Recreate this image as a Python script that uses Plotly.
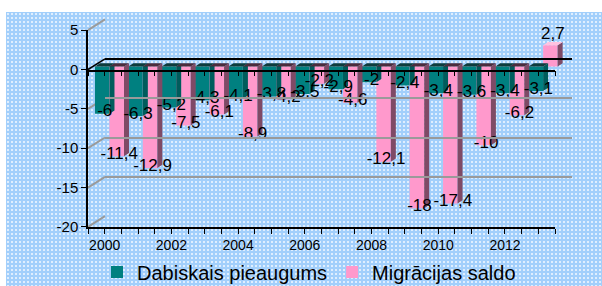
import base64
import plotly.graph_objects as go

# ---------------- data ----------------
years = list(range(2000, 2014))
dabiskais = [-6, -6.3, -5.2, -4.3, -4.1, -3.8, -3.5, -2.9, -2, -2.4, -3.4, -3.6, -3.4, -3.1]
migracijas = [-11.4, -12.9, -7.5, -6.1, -8.9, -4.2, -2.2, -4.6, -12.1, -18, -17.4, -10, -6.2, 2.7]
series_names = ["Dabiskais pieaugums", "Migrācijas saldo"]
y_ticks = [5, 0, -5, -10, -15, -20]
x_label_years = [2000, 2002, 2004, 2006, 2008, 2010, 2012]

# ---------------- geometry (pixels) ----------------
W, H = 602, 286
L, R_END = 88, 572          # plot area left / right
T, B_END = 19, 227          # plot area top / bottom
PW, PH = R_END - L, B_END - T
X_FRONT_END = 555           # end of front category axis
Y_TOP_PX, Y_BOT_PX = 30.15, 226.9   # front pixel rows of 5 and -20
DEPTH = (17, 10.7)          # back wall offset (right, up)
N = len(years)
UX = (X_FRONT_END - L) / N  # px per category
UY = (Y_BOT_PX - Y_TOP_PX) / (max(y_ticks) - min(y_ticks))

FX, FY = 4.8, 3.0           # bar front face offset (right, up)
BW = 14.5                   # bar width px
DX, DY = 5.0, 3.2           # bar depth (right, up)

fxu, fyu, bwu, dxu, dyu = FX / UX, FY / UY, BW / UX, DX / UX, DY / UY


def pxx(p):
    return (p - L) / PW


def pxy(p):
    return (B_END - p) / PH


def yfront(v):
    return Y_TOP_PX + (max(y_ticks) - v) * UY


FONT = "Liberation Sans, Arial, sans-serif"
TEAL, TEAL_SIDE, TEAL_TOP = "#008080", "#005c5c", "#0f3c3c"
PINK, PINK_SIDE, PINK_TOP_NEG, PINK_TOP_POS = "#ff99cc", "#7f4a66", "#4a2c3c", "#ffc2e0"

fig = go.Figure()

offsets = [fxu - bwu, fxu]
colors = [(TEAL, TEAL_SIDE, TEAL_TOP, TEAL), (PINK, PINK_SIDE, PINK_TOP_NEG, PINK_TOP_POS)]
series = [dabiskais, migracijas]
idx = list(range(N))


def faces(vals, off):
    sx, sy, tnx, tny, tpx, tpy = [], [], [], [], [], []
    for i, v in enumerate(vals):
        xl = i + off
        xr = xl + bwu
        lo = min(v, 0) + fyu
        hi = max(v, 0) + fyu
        sx += [xr, xr + dxu, xr + dxu, xr, xr, None]
        sy += [lo, lo + dyu, hi + dyu, hi, lo, None]
        px_ = [xl, xl + dxu, xr + dxu, xr, xl, None]
        py_ = [hi, hi + dyu, hi + dyu, hi, hi, None]
        if v < 0:
            tnx += px_; tny += py_
        else:
            tpx += px_; tpy += py_
    return sx, sy, tnx, tny, tpx, tpy


# side and top faces
for vals, off, (c_front, c_side, c_top_neg, c_top_pos) in zip(series, offsets, colors):
    sx, sy, tnx, tny, tpx, tpy = faces(vals, off)
    for xs, ys, c in [(sx, sy, c_side), (tnx, tny, c_top_neg), (tpx, tpy, c_top_pos)]:
        if xs:
            fig.add_trace(go.Scatter(x=xs, y=ys, mode="lines", fill="toself", fillcolor=c,
                                     line=dict(width=0, color=c), showlegend=False,
                                     hoverinfo="skip"))

# front faces
for vals, off, name, (c_front, *_rest) in zip(series, offsets, series_names, colors):
    fig.add_trace(go.Bar(x=idx, y=vals, base=[fyu] * N, offset=off, width=bwu, name=name,
                         marker=dict(color=c_front, line=dict(width=0))))

# data labels
for vals, off in zip(series, offsets):
    xs = [i + off + bwu / 2 + (DX / 2) / UX for i in idx]
    ys = [v + fyu + (DY / 2) / UY for v in vals]
    txt = [("%g" % v).replace(".", ",") for v in vals]
    pos = ["top center" if v > 0 else "middle center" for v in vals]
    fig.add_trace(go.Scatter(x=xs, y=ys, mode="text", text=txt, textposition=pos,
                             textfont=dict(family=FONT, size=17, color="black"),
                             showlegend=False, hoverinfo="skip", cliponaxis=False))

# empty helper traces so decorative axes are drawn
fig.add_trace(go.Scatter(x=[], y=[], xaxis="x2", yaxis="y", showlegend=False, hoverinfo="skip"))
fig.add_trace(go.Scatter(x=[], y=[], xaxis="x3", yaxis="y3", showlegend=False, hoverinfo="skip"))
fig.add_trace(go.Scatter(x=[], y=[], xaxis="x4", yaxis="y4", showlegend=False, hoverinfo="skip"))

ydom = [pxy(Y_BOT_PX), pxy(Y_TOP_PX)]
half_ticks = [i / 2 - 0.5 for i in range(2 * N + 1)]
xr_main = [-0.5, -0.5 + PW / UX]

# background pattern
svg = ('<svg xmlns="http://www.w3.org/2000/svg" width="596" height="274">'
       '<defs><pattern id="p" width="4" height="4" patternUnits="userSpaceOnUse">'
       '<rect width="4" height="4" fill="#a2cffb"/>'
       '<rect x="1" y="1" width="2" height="2" fill="#ffffff" fill-opacity="0.65"/>'
       '</pattern></defs><rect width="596" height="274" fill="url(#p)"/></svg>')
src = "data:image/svg+xml;base64," + base64.b64encode(svg.encode()).decode()

shapes = []
for t in y_ticks:
    yf = yfront(t)
    shapes.append(dict(type="line", xref="paper", yref="paper", layer="below",
                       x0=pxx(L), y0=pxy(yf), x1=pxx(L + DEPTH[0]), y1=pxy(yf - DEPTH[1]),
                       line=dict(color="black" if t == 0 else "#9a9a9a", width=1.5 if t == 0 else 2)))

fig.update_layout(
    width=W, height=H,
    margin=dict(l=L, r=W - R_END, t=T, b=H - B_END, autoexpand=False),
    paper_bgcolor="white", plot_bgcolor="rgba(0,0,0,0)",
    barmode="overlay",
    showlegend=True,
    legend=dict(orientation="h", x=pxx(309), xanchor="center", y=pxy(272), yanchor="middle",
                font=dict(family=FONT, size=20, color="black"), bgcolor="rgba(0,0,0,0)",
                itemclick=False),
    images=[dict(source=src, xref="paper", yref="paper", x=pxx(6), y=pxy(12),
                 sizex=(W - 6) / PW, sizey=(H - 12) / PH, xanchor="left", yanchor="top",
                 sizing="stretch", layer="below")],
    shapes=shapes,
    xaxis=dict(domain=[0, 1], range=xr_main, anchor="y", showline=False, showgrid=False,
               zeroline=False, tickvals=[years.index(y) for y in x_label_years],
               ticktext=[str(y) for y in x_label_years], ticks="outside", ticklen=5,
               tickcolor="rgba(0,0,0,0)", tickfont=dict(family=FONT, size=14, color="black")),
    yaxis=dict(domain=ydom, range=[min(y_ticks), max(y_ticks)], anchor="x", showline=True,
               linecolor="black", linewidth=1.5, ticks="outside", ticklen=5, tickcolor="black",
               tickvals=y_ticks, ticktext=[str(t) for t in y_ticks], showgrid=False,
               zeroline=False, tickfont=dict(family=FONT, size=15, color="black")),
    xaxis2=dict(domain=[0, pxx(X_FRONT_END)], range=[-0.5, N - 0.5], anchor="y",
                showline=True, linecolor="black", linewidth=1.5, ticks="outside", ticklen=5,
                tickcolor="black", tickvals=half_ticks, showticklabels=False, showgrid=False,
                zeroline=False),
    xaxis3=dict(domain=[0, pxx(X_FRONT_END)], range=[-0.5, N - 0.5], anchor="y3",
                showline=True, linecolor="black", linewidth=1.5, ticks="outside", ticklen=5,
                tickcolor="black", tickvals=half_ticks, showticklabels=False, showgrid=False,
                zeroline=False),
    yaxis3=dict(domain=[pxy(yfront(0)), pxy(yfront(0)) + 0.05], range=[0, 1], anchor="x3",
                visible=False),
    xaxis4=dict(domain=[pxx(L + DEPTH[0]), 1], range=[-0.5, N - 0.5], anchor="y4",
                visible=False),
    yaxis4=dict(domain=[pxy(Y_BOT_PX - DEPTH[1]), pxy(Y_TOP_PX - DEPTH[1])],
                range=[min(y_ticks), max(y_ticks)], anchor="x4", showline=False,
                showticklabels=False, ticks="", tickvals=y_ticks, showgrid=True,
                gridcolor="#9a9a9a", gridwidth=2, zeroline=True, zerolinecolor="black",
                zerolinewidth=1.5),
)

fig.write_html("out.html", config={"displayModeBar": False},
               post_script="document.body.style.margin='0';document.body.style.overflow='hidden';")
